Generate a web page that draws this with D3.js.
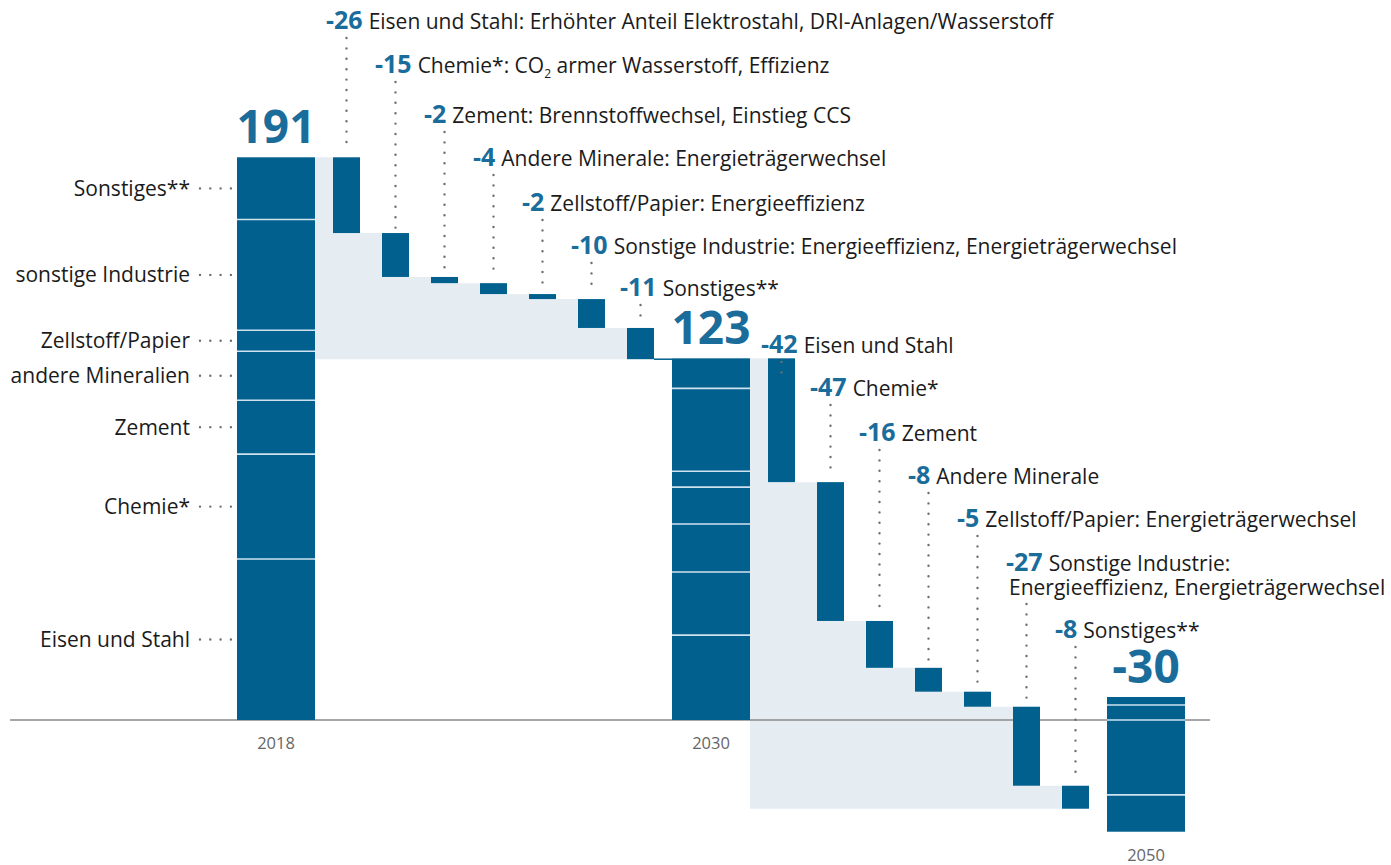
<!DOCTYPE html>
<html>
<head>
<meta charset="utf-8">
<script src="https://cdn.jsdelivr.net/npm/d3@7"></script>
<style>
  body { margin: 0; background: #fff; }
  svg { font-family: "Open Sans", "Noto Sans", sans-serif; }
</style>
</head>
<body>
<script>
// Sektoren (Reihenfolge von unten nach oben im Stapel)
var categories = ["Eisen und Stahl", "Chemie*", "Zement", "andere Mineralien",
                  "Zellstoff/Papier", "sonstige Industrie", "Sonstiges**"];
var years = ["2018", "2030", "2050"];

// Stapel der Gesamtbalken, Mio. t CO2
var stack2018 = [54.6, 35.6, 18.3, 16.6, 7.1, 37.6, 21.1];
var stack2030 = [28.8, 21.4, 16.3, 12.5, 5.4, 28.1, 10.2];
var stack2050 = [-12.5, -25.4, 0, 5.1, 0, 0, 2.7];

// Minderungsschritte
var steps2030 = [-25.7, -14.9, -2.1, -3.7, -1.7, -9.8, -10.6];
var steps2050 = [-42.0, -47.1, -15.9, -8.1, -5.1, -26.8, -7.8];

var notes2030 = [
  "Eisen und Stahl: Erhöhter Anteil Elektrostahl, DRI-Anlagen/Wasserstoff",
  "Chemie*: CO₂ armer Wasserstoff, Effizienz",
  "Zement: Brennstoffwechsel, Einstieg CCS",
  "Andere Minerale: Energieträgerwechsel",
  "Zellstoff/Papier: Energieeffizienz",
  "Sonstige Industrie: Energieeffizienz, Energieträgerwechsel",
  "Sonstiges**"
];
var notes2050 = [
  "Eisen und Stahl",
  "Chemie*",
  "Zement",
  "Andere Minerale",
  "Zellstoff/Papier: Energieträgerwechsel",
  "Sonstige Industrie:|Energieeffizienz, Energieträgerwechsel",
  "Sonstiges**"
];

// Layout (Zeilen der Beschriftungen)
var labelRows = [[21, 65, 115, 158, 203, 246, 288],
                 [345, 388, 433, 476, 519, 563, 630]];

var W = 1391, H = 865;
var barColor = "#02608e", numColor = "#1a6d9b", shade = "#e5edf3",
    sepColor = "#cfe2ee", dotColor = "#6e6e6e", textColor = "#1b1b1b";
var fs = 21;

var svg = d3.select("body").append("svg").attr("width", W).attr("height", H);

var y = d3.scaleLinear().domain([0, 191]).range([720, 157]);
var xTotal = d3.scalePoint().domain(years).range([276, 1146]);
var xStep = d3.scalePoint().domain(d3.range(7)).range([70.5, 364.5]);
var totalW = 78, stepW = 27;

var stacks = [stack2018, stack2030, stack2050];
var phases = [steps2030, steps2050];
var notes = [notes2030, notes2050];

// Waterfall-Stufen berechnen
var stepData = [];
phases.forEach(function(steps, p) {
  var level = d3.sum(stacks[p]);
  steps.forEach(function(v, k) {
    stepData.push({p: p, k: k, v: v, from: level, to: level + v,
                   cx: xTotal(years[p]) + xStep(k), note: notes[p][k]});
    level += v;
  });
});

// Hellblaue Flächen unter den Stufen
phases.forEach(function(steps, p) {
  var d = stepData.filter(function(s) { return s.p === p; });
  var start = d3.sum(stacks[p]);
  var bottom = d[d.length - 1].to;
  var pts = [[xTotal(years[p]) + totalW / 2, y(start)]];
  d.forEach(function(s) {
    pts.push([s.cx - stepW / 2, y(s.from)]);
    pts.push([s.cx - stepW / 2, y(s.to)]);
  });
  pts.push([d[d.length - 1].cx + stepW / 2, y(bottom)]);
  pts.push([xTotal(years[p]) + totalW / 2, y(bottom)]);
  svg.append("path")
     .attr("d", "M" + pts.join("L") + "Z")
     .attr("fill", shade);
});

// Nulllinie
svg.append("line")
   .attr("x1", 10).attr("x2", 1210)
   .attr("y1", y(0)).attr("y2", y(0))
   .attr("stroke", "#8a8a8a").attr("stroke-width", 1.5);

// Gesamtbalken (gestapelt)
stacks.forEach(function(stack, p) {
  var segs = [], pos = 0, neg = 0;
  stack.forEach(function(v, i) { if (v > 0) { segs.push({i: i, y0: pos, y1: pos + v}); pos += v; } });
  for (var i = stack.length - 1; i >= 0; i--) {
    if (stack[i] < 0) { segs.push({i: i, y0: neg, y1: neg + stack[i]}); neg += stack[i]; }
  }
  var g = svg.append("g");
  var x0 = xTotal(years[p]) - totalW / 2;
  g.selectAll("rect").data(segs).enter().append("rect")
   .attr("x", x0).attr("width", totalW)
   .attr("y", function(s) { return y(Math.max(s.y0, s.y1)); })
   .attr("height", function(s) { return Math.abs(y(s.y0) - y(s.y1)); })
   .attr("fill", barColor);
  // Trennlinien
  var cuts = [];
  var acc = 0;
  stack.forEach(function(v, i) { if (v > 0) { acc += v; cuts.push(acc); } });
  cuts.pop();
  if (neg < 0 && pos > 0) cuts.push(0);
  acc = 0;
  for (var j = stack.length - 1; j >= 0; j--) { if (stack[j] < 0) { acc += stack[j]; cuts.push(acc); } }
  if (neg < 0) cuts.pop();
  g.selectAll("line").data(cuts).enter().append("line")
   .attr("x1", x0).attr("x2", x0 + totalW)
   .attr("y1", function(c) { return y(c); }).attr("y2", function(c) { return y(c); })
   .attr("stroke", sepColor).attr("stroke-width", 1.6);

  // Summe
  svg.append("text")
     .attr("x", xTotal(years[p])).attr("y", y(Math.max(pos, 0)) - 14)
     .attr("text-anchor", "middle")
     .attr("font-size", 46).attr("font-weight", 700).attr("fill", numColor)
     .text(Math.round(d3.sum(stack)));
  // Jahr
  svg.append("text")
     .attr("x", xTotal(years[p])).attr("y", y(Math.min(neg, 0)) + 29)
     .attr("text-anchor", "middle")
     .attr("font-size", 16.5).attr("fill", "#666")
     .text(years[p]);
});

// Kategorien links am 2018er Balken
var acc18 = 0;
var leftLabels = stack2018.map(function(v, i) { var m = acc18 + v / 2; acc18 += v; return {name: categories[i], mid: m}; });
var ll = svg.selectAll(".left").data(leftLabels).enter().append("g").attr("class", "left");
ll.append("text")
  .attr("x", 190).attr("y", function(d) { return y(d.mid); })
  .attr("dy", "0.35em").attr("text-anchor", "end")
  .attr("font-size", fs).attr("fill", textColor)
  .text(function(d) { return d.name; });
ll.append("line")
  .attr("x1", 200).attr("x2", 233)
  .attr("y1", function(d) { return y(d.mid); }).attr("y2", function(d) { return y(d.mid); })
  .attr("stroke", dotColor).attr("stroke-width", 2.4)
  .attr("stroke-linecap", "round").attr("stroke-dasharray", "0 10.3");

// Stufenbalken
svg.selectAll(".step").data(stepData).enter().append("rect")
   .attr("class", "step")
   .attr("x", function(s) { return s.cx - stepW / 2; })
   .attr("width", stepW)
   .attr("y", function(s) { return y(Math.max(s.from, s.to)); })
   .attr("height", function(s) { return Math.abs(y(s.from) - y(s.to)); })
   .attr("fill", barColor);

// Verbindung letzter Schritt -> 2030
var last1 = stepData.filter(function(s) { return s.p === 0; })[6];
svg.append("line")
   .attr("x1", last1.cx + stepW / 2).attr("x2", xTotal(years[1]) - totalW / 2)
   .attr("y1", y(last1.to)).attr("y2", y(last1.to))
   .attr("stroke", barColor).attr("stroke-width", 1.5);

// Beschriftungen der Schritte
stepData.forEach(function(s) {
  var base = labelRows[s.p][s.k] + 8;
  var lines = s.note.split("|");
  var t = svg.append("text")
     .attr("x", s.cx - stepW / 2 - 7).attr("y", base)
     .attr("fill", textColor).attr("font-size", fs);
  t.append("tspan")
   .attr("font-size", 25).attr("font-weight", 700).attr("fill", numColor)
   .text(Math.round(s.v));
  var parts = lines[0].split("₂");
  t.append("tspan").attr("dx", 6).text(parts[0]);
  if (parts.length > 1) {
    t.append("tspan").attr("font-size", 12).attr("dy", 5).text("2");
    t.append("tspan").attr("dy", -5).text(parts[1]);
  }
  var endY = base;
  if (lines.length > 1) {
    endY = base + 24;
    svg.append("text")
       .attr("x", s.cx - stepW / 2 - 4).attr("y", endY)
       .attr("fill", textColor).attr("font-size", fs)
       .text(lines[1]);
  }
  var y1 = endY + 9;
  var y2 = y(Math.max(s.from, s.to)) - 5;
  if (y2 < y1 + 10) y2 = y1 + 12;
  svg.append("line")
     .attr("x1", s.cx).attr("x2", s.cx)
     .attr("y1", y1).attr("y2", y2)
     .attr("stroke", dotColor).attr("stroke-width", 2.4)
     .attr("stroke-linecap", "round").attr("stroke-dasharray", "0 10.4");
});
</script>
</body>
</html>
